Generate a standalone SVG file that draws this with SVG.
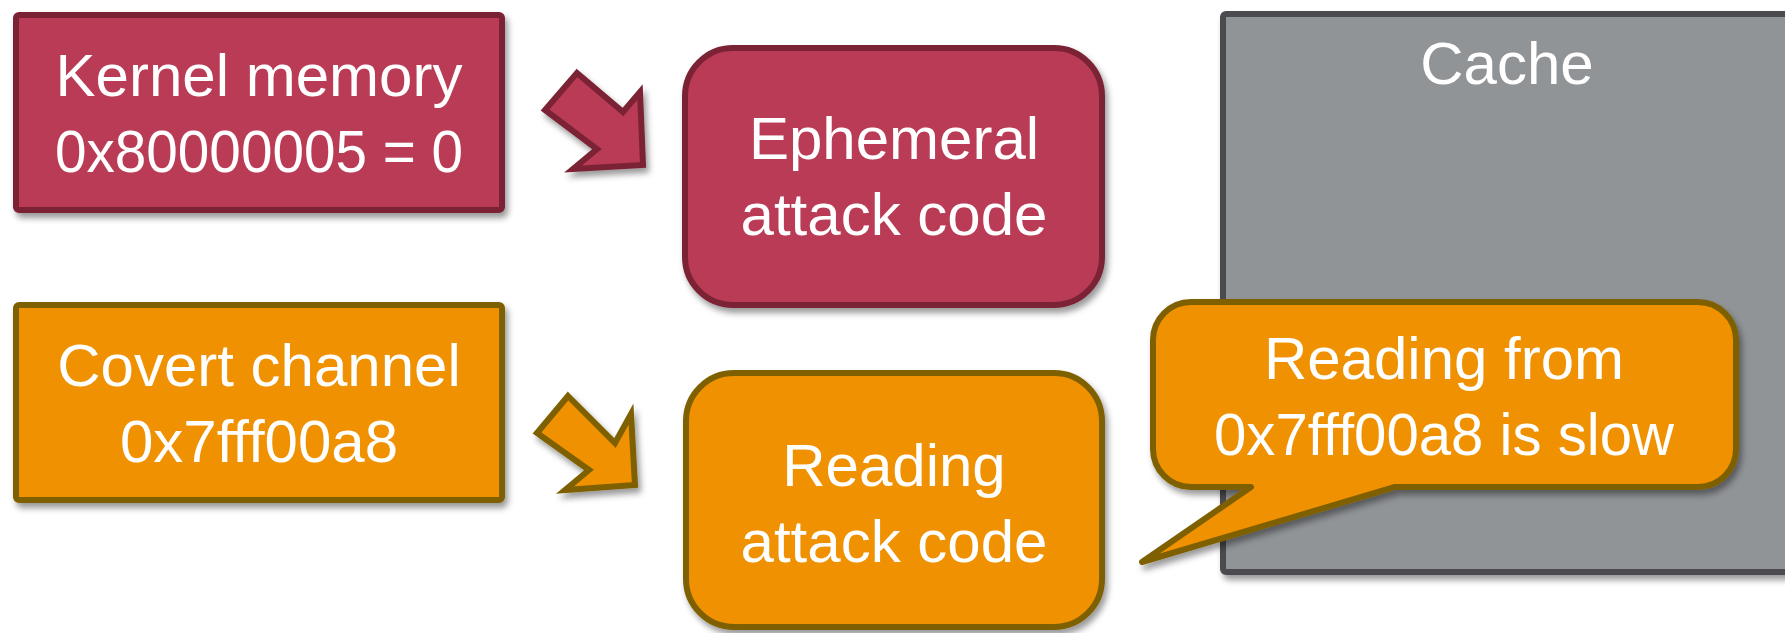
<svg xmlns="http://www.w3.org/2000/svg" width="1785" height="633" viewBox="0 0 1785 633">
<defs>
<filter id="sh" x="-10%" y="-10%" width="130%" height="130%">
<feDropShadow dx="3" dy="5" stdDeviation="3" flood-color="#000" flood-opacity="0.4"/>
</filter>
<style>
.red{fill:#b93a55;stroke:#7b2435;stroke-width:6;filter:url(#sh)}
.org{fill:#ef9100;stroke:#7f6000;stroke-width:6;stroke-linejoin:round;filter:url(#sh)}
.gray{fill:#919497;stroke:#4b4c50;stroke-width:6;filter:url(#sh)}
.arr{stroke-linejoin:miter}
text{font-family:"Liberation Sans",Arial,sans-serif;font-size:60px;fill:#fff;text-anchor:middle}
</style>
</defs>
<rect width="1785" height="633" fill="#fff"/>
<g id="cache">
<rect class="gray" x="1223" y="14" width="570" height="558" rx="3"/>
<text x="1507" y="84">Cache</text>
</g>
<g id="kernel">
<rect class="red" x="16" y="15" width="486" height="195" rx="3"/>
<text x="259" y="96">Kernel memory</text>
<text x="259" y="172" textLength="408" lengthAdjust="spacingAndGlyphs">0x80000005 = 0</text>
</g>
<g id="covert">
<rect class="org" x="16" y="305" width="486" height="195" rx="3"/>
<text x="259" y="386">Covert channel</text>
<text x="259" y="462">0x7fff00a8</text>
</g>
<g id="ephemeral">
<rect class="red" x="685" y="48" width="417" height="257" rx="48"/>
<text x="894" y="159">Ephemeral</text>
<text x="894" y="235">attack code</text>
</g>
<g id="reading">
<rect class="org" x="686" y="373" width="416" height="254" rx="48"/>
<text x="894" y="486">Reading</text>
<text x="894" y="562">attack code</text>
</g>
<g id="callout">
<path class="org" d="M1191,302 H1698 A38,38 0 0 1 1736,340 V449 A38,38 0 0 1 1698,487 H1395 L1142,562 L1251,487 H1191 A38,38 0 0 1 1153,449 V340 A38,38 0 0 1 1191,302 Z"/>
<text x="1444" y="379">Reading from</text>
<text x="1444" y="455" textLength="460" lengthAdjust="spacingAndGlyphs">0x7fff00a8 is slow</text>
</g>
<g id="connectors">
<path class="red arr" d="M577,73 L623,112 L640,92 L643,165 L573,169 L597,149 L545,110 Z"/>
<path class="org arr" d="M568,396 L615,443 L631,414 L635,485 L565,490 L589,470 L537,433 Z"/>
</g>
</svg>
